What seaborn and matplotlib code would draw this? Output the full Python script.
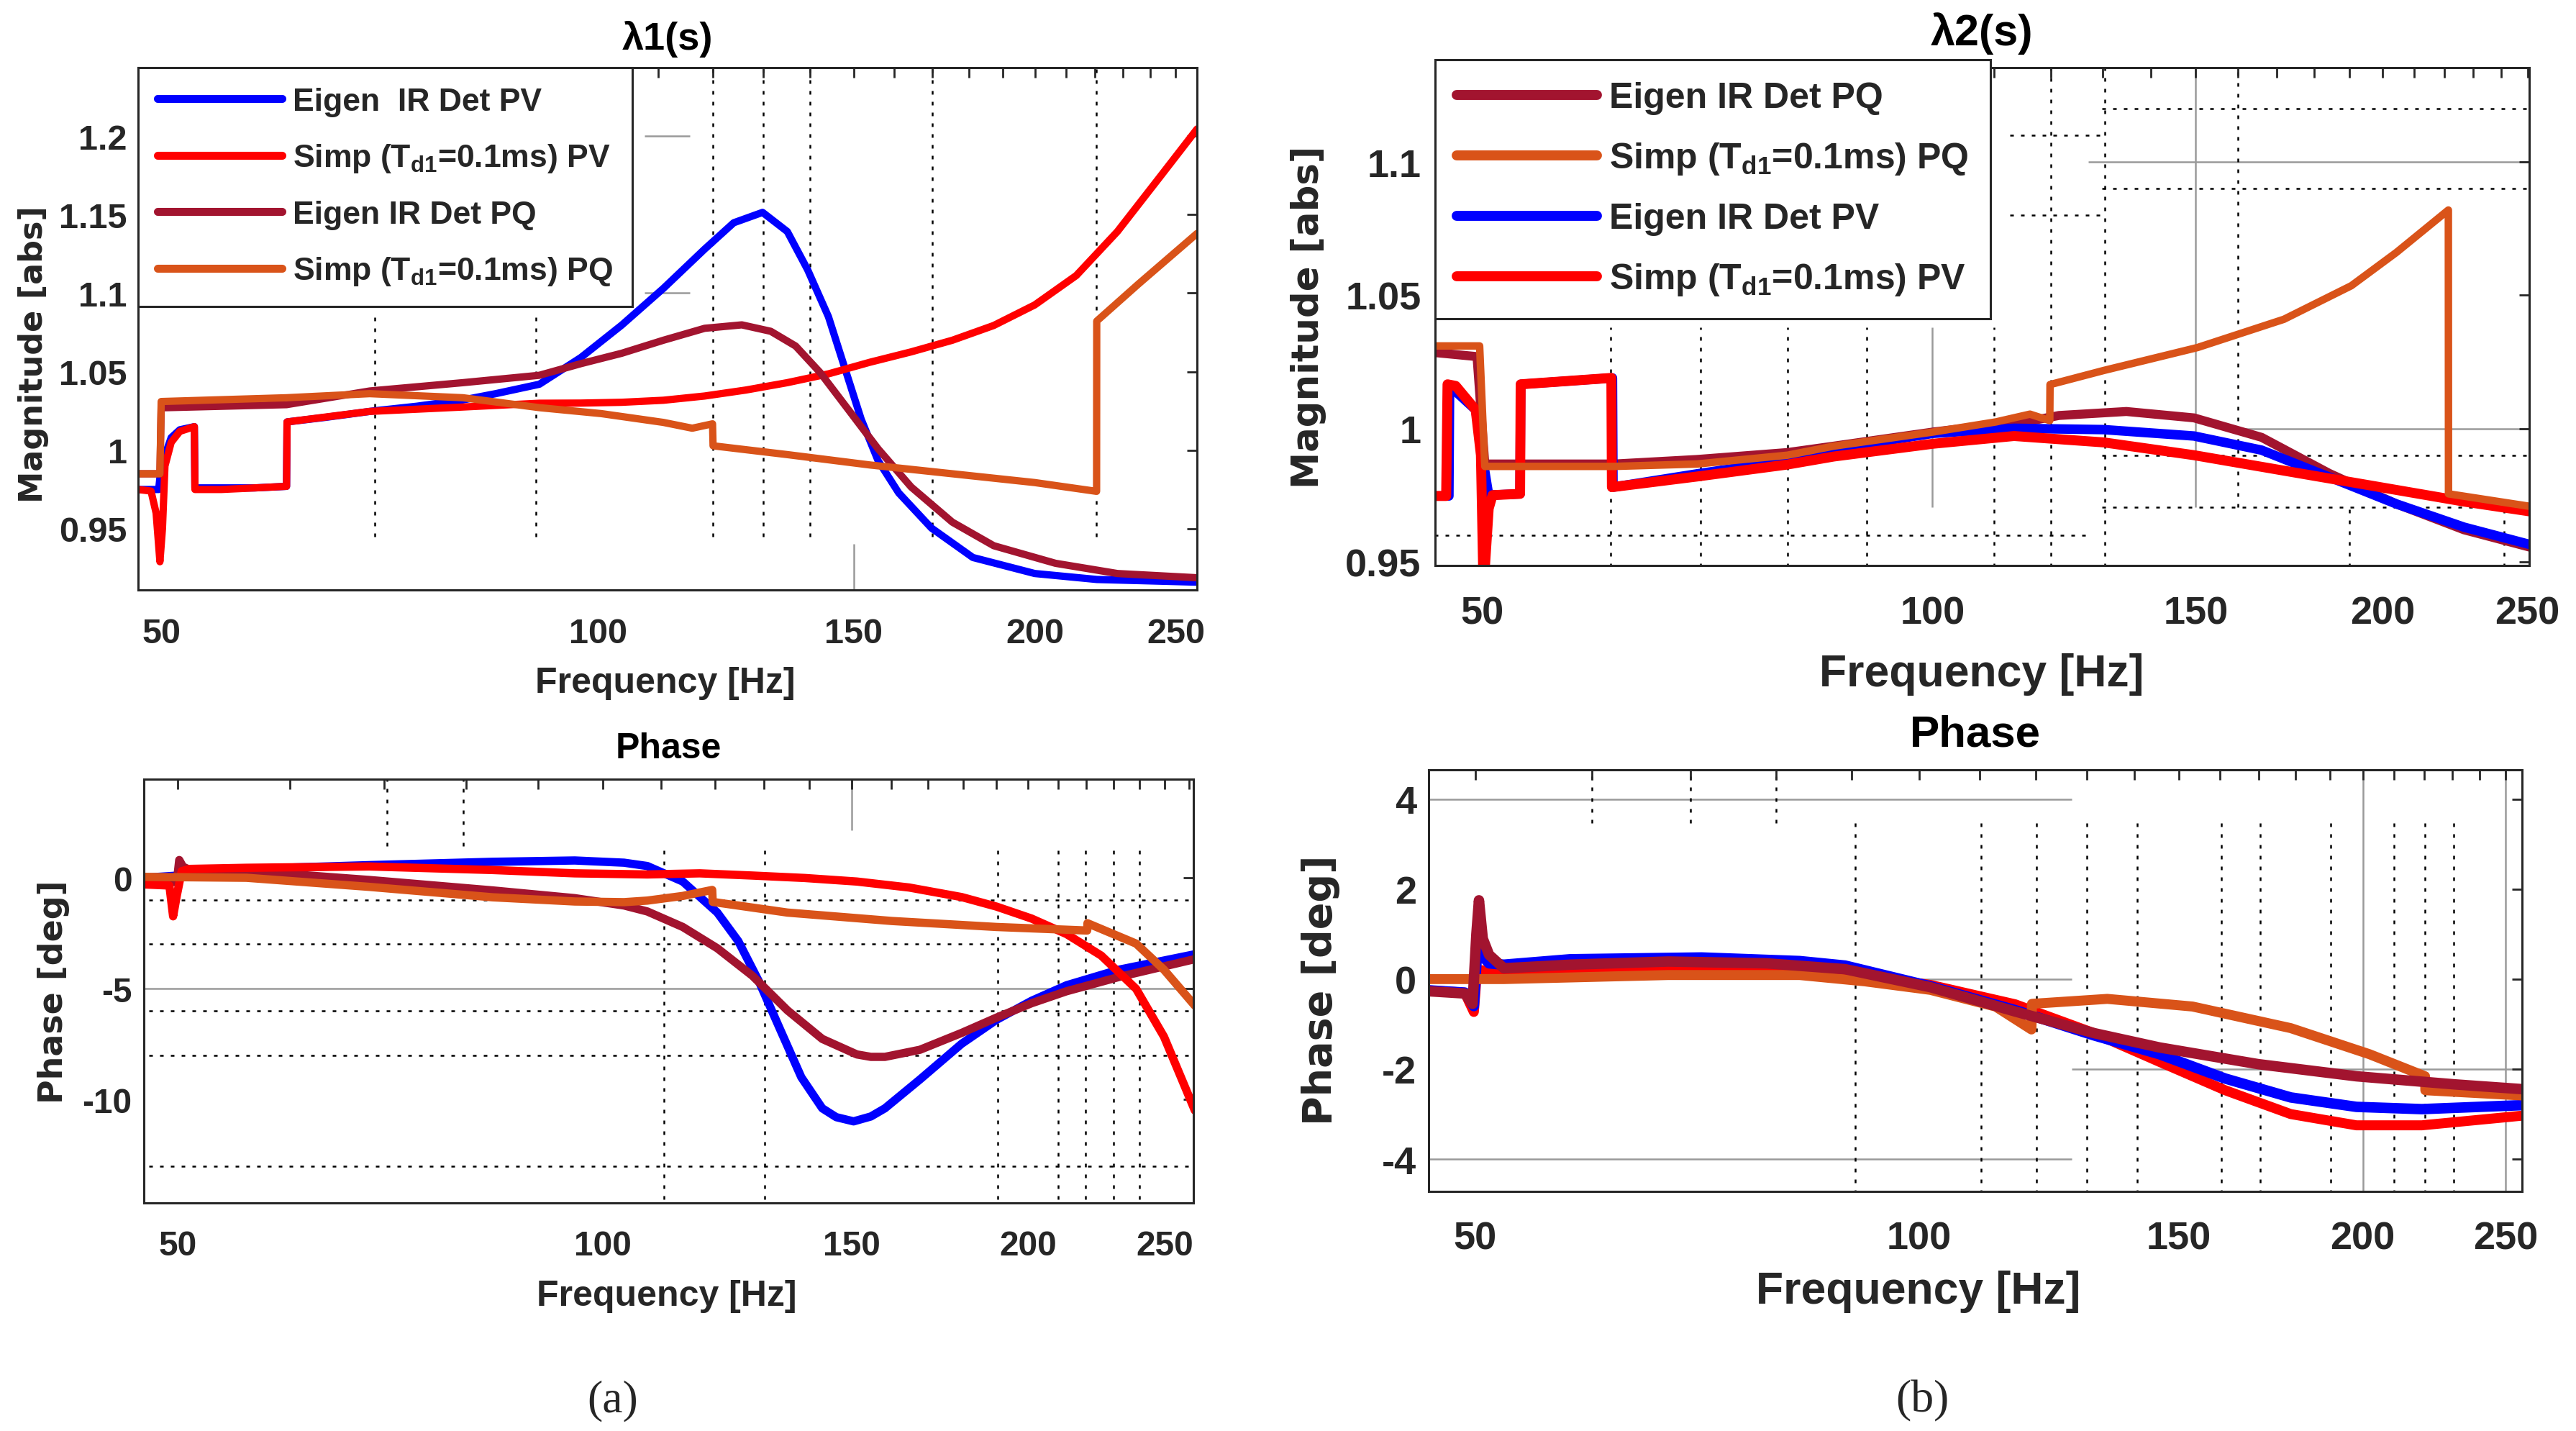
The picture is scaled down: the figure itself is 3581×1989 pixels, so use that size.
import matplotlib
matplotlib.use("Agg")
import matplotlib.pyplot as plt
import seaborn as sns
from matplotlib.ticker import FixedLocator, FixedFormatter, NullFormatter

# ---------------------------------------------------------------------------
# Data
# ---------------------------------------------------------------------------
# -- lambda1 magnitude ------------------------------------------------------
l1m_eig_pv_f = [48.2, 49.3, 49.8, 50.0, 50.8, 51.5, 52.7, 52.75, 55, 58, 61.0, 61.05, 65, 70, 75,
                80.7, 85, 91.1, 97.3, 103.8, 110.9, 118.4, 124.0, 129.8, 135.0, 139.4, 144.1,
                148.0, 151.8, 155.9, 161.1, 169.7, 181.2, 199.9, 220.6, 258.6]
l1m_eig_pv_v = [0.975, 0.975, 0.975, 0.99, 1.008, 1.013, 1.015, 0.976, 0.976, 0.976, 0.977, 1.018,
                1.021, 1.025, 1.028, 1.032, 1.036, 1.042, 1.059, 1.0796, 1.103, 1.128, 1.1448,
                1.1514, 1.1392, 1.115, 1.085, 1.0514, 1.0196, 0.9934, 0.9728, 0.9504, 0.9317,
                0.9215, 0.9177, 0.916]
l1m_simp_pv_f = [48.2, 49.2, 49.6, 49.9, 50.1, 50.3, 50.8, 51.5, 52.7, 52.75, 55, 58, 61.0, 61.05,
                 69.6, 80.7, 91.1, 97.3, 103.8, 110.9, 118.4, 126.4, 135.0, 144.1, 153.9, 164.3,
                 175.4, 187.3, 199.9, 213.5, 227.9, 243.3, 258.6]
l1m_simp_pv_v = [0.975, 0.974, 0.96, 0.929, 0.95, 0.99, 1.005, 1.012, 1.015, 0.975, 0.975, 0.976,
                 0.977, 1.018, 1.0247, 1.0275, 1.0299, 1.030, 1.0305, 1.0318, 1.0345, 1.0383,
                 1.043, 1.0486, 1.056, 1.0626, 1.070, 1.0794, 1.0925, 1.1112, 1.1392, 1.1729,
                 1.2045]
l1m_eig_pq_f = [48.2, 49.9, 50.0, 61, 69.6, 80.7, 91.1, 97.3, 103.8, 110.9, 118.4, 125.6, 131.5,
                136.8, 142.2, 148.9, 155.9, 164.3, 175.4, 187.3, 206.6, 227.9, 258.6]
l1m_eig_pq_v = [0.985, 0.985, 1.027, 1.029, 1.0377, 1.043, 1.0477, 1.0551, 1.0617, 1.070, 1.0776,
                1.0798, 1.0757, 1.0663, 1.0495, 1.0252, 1.0009, 0.9766, 0.9542, 0.9392, 0.928,
                0.9215, 0.9188]
l1m_simp_pq_f = [48.2, 49.9, 50.0, 61, 69.6, 80.7, 91.1, 100.5, 110.9, 116.1, 119.9, 120.0, 135.0,
                 153.9, 175.4, 199.9, 220.5, 220.55, 235.5, 258.6]
l1m_simp_pq_v = [0.985, 0.985, 1.031, 1.0334, 1.036, 1.0334, 1.0271, 1.0233, 1.0177, 1.014,
                 1.0168, 1.0028, 0.9972, 0.9906, 0.985, 0.9794, 0.9738, 1.0822, 1.1056, 1.138]

# -- lambda2 magnitude ------------------------------------------------------
l2m_eig_pq_f = [46.5, 49.6, 50.2, 61.3, 69.6, 80, 85.9, 100.1, 110.3, 116.6, 121.5, 134.8, 149.6,
                166.0, 184.2, 204.3, 226.7, 251.6]
l2m_eig_pq_v = [1.0285, 1.027, 0.9867, 0.9867, 0.9884, 0.991, 0.9934, 0.9987, 1.0015, 1.003,
                1.0049, 1.0064, 1.004, 0.9967, 0.9832, 0.9717, 0.962, 0.9553]
l2m_simp_pq_f = [46.5, 49.8, 50.2, 61.3, 69.6, 80, 85.9, 100.1, 110.3, 116.2, 119.8, 119.85,
                 130.2, 150.4, 171.8, 190.6, 204.3, 221.3, 221.35, 251.6]
l2m_simp_pq_v = [1.031, 1.031, 0.9858, 0.9858, 0.9867, 0.990, 0.9934, 0.9987, 1.0025, 1.0054,
                 1.003, 1.0165, 1.0218, 1.0304, 1.041, 1.0536, 1.0661, 1.082, 0.9755, 0.9707]
l2m_eig_pv_f = [46.5, 47.5, 47.55, 49.5, 50.0, 50.5, 53.0, 53.05, 61.1, 61.15, 69.6, 80, 85.9,
                100.1, 113.4, 130.2, 149.6, 166.0, 184.2, 204.3, 226.7, 251.6]
l2m_eig_pv_v = [0.9747, 0.9747, 1.016, 1.007, 0.99, 0.975, 0.9755, 1.0166, 1.019, 0.978, 0.983,
                0.988, 0.9924, 0.9982, 1.0001, 0.9996, 0.9972, 0.9919, 0.9818, 0.9717, 0.963,
                0.9563]
l2m_simp_pv_f = [46.5, 47.3, 47.4, 48.0, 49.5, 49.9, 50.1, 50.5, 50.8, 53.0, 53.05, 61.0, 61.05,
                 69.6, 80, 85.9, 100.1, 113.4, 130.2, 149.6, 171.8, 197.4, 226.7, 251.6]
l2m_simp_pv_v = [0.9747, 0.9747, 1.0166, 1.016, 1.007, 0.99, 0.94, 0.97, 0.975, 0.9755, 1.0166,
                 1.019, 0.978, 0.982, 0.9865, 0.9895, 0.9943, 0.9972, 0.9948, 0.990, 0.9842,
                 0.9784, 0.9726, 0.9688]

# -- lambda1 phase ----------------------------------------------------------
l1p_eig_pv_f = [47.3, 50.0, 50.5, 55.9, 68.3, 83.5, 95.5, 103.5, 107.5, 113.9, 120.5, 124.7,
                129.0, 133.5, 138.2, 143.0, 146.3, 150.5, 154.8, 158.4, 167.7, 179.5, 190.0,
                201.2, 213.0, 231.9, 262.6]
l1p_eig_pv_v = [0.0, 0.1, 0.35, 0.4, 0.57, 0.72, 0.78, 0.68, 0.53, -0.17, -1.57, -2.86, -4.69,
                -6.84, -9.0, -10.4, -10.8, -10.99, -10.77, -10.4, -9.1, -7.49, -6.41, -5.55,
                -4.85, -4.15, -3.45]
l1p_eig_pq_f = [47.3, 49.9, 50.1, 50.4, 51, 55.9, 68.3, 83.5, 95.5, 103.5, 107.5, 113.9, 120.5,
                127.6, 135.1, 143.0, 151.3, 154.8, 158.4, 167.7, 179.5, 190.0, 201.2, 213.0,
                231.9, 262.6]
l1p_eig_pq_v = [-0.1, -0.2, 0.8, 0.5, 0.35, 0.31, -0.1, -0.57, -0.92, -1.25, -1.52, -2.22, -3.18,
                -4.42, -5.98, -7.27, -7.97, -8.08, -8.08, -7.76, -7.0, -6.31, -5.66, -5.12,
                -4.48, -3.67]
l1p_simp_pv_f = [47.3, 49.3, 49.6, 49.9, 50.3, 51, 55.9, 68.3, 83.5, 95.5, 107.5, 117.1, 127.6,
                 139.0, 151.3, 164.8, 179.5, 190.0, 201.2, 213.0, 225.4, 238.6, 249.7, 262.6]
l1p_simp_pv_v = [-0.3, -0.35, -1.74, -0.8, 0.3, 0.4, 0.45, 0.51, 0.35, 0.2, 0.15, 0.2, 0.1, -0.01,
                 -0.17, -0.44, -0.87, -1.3, -1.84, -2.54, -3.51, -5.01, -7.17, -10.5]
l1p_simp_pq_f = [47.3, 55.9, 68.3, 83.5, 95.5, 103.5, 107.5, 113.9, 119.5, 119.6, 135.1, 160.2,
                 190.0, 220.3, 220.4, 238.6, 249.7, 262.6]
l1p_simp_pq_v = [0.04, 0.0, -0.41, -0.88, -1.07, -1.1, -1.03, -0.82, -0.55, -1.09, -1.57, -1.95,
                 -2.22, -2.38, -2.05, -2.97, -4.15, -5.77]

# -- lambda2 phase ----------------------------------------------------------
l2p_eig_pq_f = [46.5, 49.2, 49.8, 50.1, 50.3, 50.6, 51.1, 52.3, 58.0, 67.6, 78.8, 89.1, 101.8,
                116.2, 131.4, 145.6, 169.8, 198.0, 230.8, 257.5]
l2p_eig_pq_v = [-0.27, -0.32, -0.55, 1.0, 1.75, 0.9, 0.54, 0.24, 0.32, 0.39, 0.35, 0.22, -0.18,
                -0.72, -1.2, -1.52, -1.89, -2.16, -2.34, -2.45]
l2p_eig_pv_f = [46.5, 49.2, 49.9, 50.2, 50.6, 51.1, 52.3, 58.0, 71.2, 83.0, 89.1, 101.8, 116.2,
                131.4, 145.6, 161.3, 178.7, 198.0, 219.3, 257.5]
l2p_eig_pv_v = [-0.25, -0.3, -0.6, 0.8, 0.5, 0.35, 0.32, 0.44, 0.48, 0.40, 0.30, -0.16, -0.69,
                -1.25, -1.67, -2.21, -2.63, -2.84, -2.89, -2.8]
l2p_simp_pv_f = [46.5, 49.2, 49.9, 50.1, 50.4, 51.1, 52.3, 64.2, 78.8, 89.1, 101.8, 116.2, 131.4,
                 145.6, 161.3, 178.7, 198.0, 219.3, 257.5]
l2p_simp_pv_v = [-0.25, -0.3, -0.73, 0.0, 0.2, 0.18, 0.16, 0.19, 0.24, 0.13, -0.13, -0.56, -1.2,
                 -1.84, -2.47, -3.0, -3.25, -3.25, -3.03]
l2p_simp_pq_f = [46.5, 52.3, 67.6, 83.0, 91.9, 101.8, 112.7, 119.2, 119.3, 134.2, 153.3, 178.7,
                 202.1, 220.4, 220.5, 257.5]
l2p_simp_pq_v = [0.0, 0.0, 0.09, 0.09, -0.05, -0.24, -0.61, -1.12, -0.55, -0.44, -0.61, -1.09,
                 -1.67, -2.16, -2.47, -2.59]

# -- labels / ticks -----------------------------------------------------------
lbl_eig_pv = "Eigen  IR Det PV"
lbl_eig_pv2 = "Eigen IR Det PV"
lbl_simp_pv = "Simp (T$_{d1}$=0.1ms) PV"
lbl_eig_pq = "Eigen IR Det PQ"
lbl_simp_pq = "Simp (T$_{d1}$=0.1ms) PQ"

x_ticks = [50, 100, 150, 200, 250]
x_tick_labels = ["50", "100", "150", "200", "250"]
x_minor = [60, 70, 80, 90, 110, 120, 130, 140, 160, 170, 180, 190, 210, 220, 230, 240, 260]

l1m_yticks = [0.95, 1.0, 1.05, 1.1, 1.15, 1.2]
l1m_ylabels = ["0.95", "1", "1.05", "1.1", "1.15", "1.2"]
l2m_yticks = [0.95, 1.0, 1.05, 1.1]
l2m_ylabels = ["0.95", "1", "1.05", "1.1"]
l1p_yticks = [-10, -5, 0]
l1p_ylabels = ["-10", "-5", "0"]
l2p_yticks = [-4, -2, 0, 2, 4]
l2p_ylabels = ["-4", "-2", "0", "2", "4"]

# leftover grid fragments of the exported MATLAB figure: (x, y0, y1) / (y, x0, x1)
l1m_vdots = [(70.2, 0.945, 1.087), (90.6, 0.945, 1.087), (120, 0.945, 1.25), (130, 0.945, 1.25),
             (140, 0.945, 1.25), (170, 0.945, 1.25), (220.5, 0.945, 1.25)]
l1m_hgray = [(1.2, 107.7, 115.6), (1.1, 107.7, 115.6)]
l1m_vgray = [(150, 0.90, 0.9405)]

l2m_hdots = [(1.12, 129.8, 260), (1.11, 112.7, 129.8), (1.09, 129.8, 260), (1.08, 112.7, 129.8),
             (0.99, 129.8, 260), (0.9704, 129.8, 260), (0.96, 40, 127.9)]
l2m_hgray = [(1.1, 127.1, 260), (1.0, 160.3, 260)]
l2m_vdots = [(60.9, 0.94, 1.038), (70, 0.94, 1.038), (80, 0.94, 1.038), (90.4, 0.94, 1.038),
             (110, 0.94, 1.038), (120, 0.94, 1.2), (130.4, 0.94, 1.2), (160, 0.9704, 1.2),
             (190, 0.94, 0.9704), (241, 0.94, 0.9704)]
l2m_vgray = [(150, 0.9704, 1.2), (100, 0.9704, 1.038)]

l1p_hdots = [(-1, 40, 270), (-3, 40, 270), (-6, 40, 270), (-8, 40, 270), (-13, 40, 270)]
l1p_hgray = [(-5, 40, 270)]
l1p_vdots = [(70.3, 1.43, 5), (79.6, 1.43, 5), (110.5, -15, 1.43), (130.2, -15, 1.43),
             (190.4, -15, 1.43), (210, -15, 1.43), (219.6, -15, 1.43), (230, -15, 1.43),
             (240, -15, 1.43)]
l1p_vgray = [(150, 2.15, 5)]

l2p_hdots = []
l2p_hgray = [(4, 40, 127), (0, 98.5, 127), (-2, 127, 270), (-4, 40, 127)]
l2p_vdots = [(60, 3.46, 5), (70, 3.46, 5), (80, 3.46, 5), (90.5, -5, 3.46), (110.2, -5, 3.46),
             (120.1, -5, 3.46), (130, -5, 3.46), (140.6, -5, 3.46), (160.4, -5, 3.46),
             (170.4, -5, 3.46), (190.3, -5, 3.46), (210, -5, 3.46), (220.4, -5, 3.46),
             (230.5, -5, 3.46)]
l2p_vgray = [(200, -5, 5), (250, -5, 5)]

# ---------------------------------------------------------------------------
# Style
# ---------------------------------------------------------------------------
BLUE, RED, MAROON, ORANGE = "#0000FF", "#FF0000", "#A2142F", "#D95319"
INK = "#262626"

sns.set_style("white")
plt.rcParams["font.family"] = ["Liberation Sans", "DejaVu Sans"]
plt.rcParams["font.weight"] = "bold"
plt.rcParams["mathtext.fontset"] = "custom"
plt.rcParams["mathtext.rm"] = "Liberation Sans:bold"
plt.rcParams["mathtext.it"] = "Liberation Sans:bold"
plt.rcParams["mathtext.default"] = "rm"
plt.rcParams["axes.linewidth"] = 2.2
plt.rcParams["axes.edgecolor"] = INK

fig = plt.figure(figsize=(35.81, 19.90), dpi=100)


def draw(ax, f, v, color, lw):
    sns.lineplot(x=f, y=v, ax=ax, color=color, linewidth=lw, sort=False,
                 estimator=None, legend=False)
    line = ax.lines[-1]
    line.set_solid_joinstyle("round")
    return line


def fragments(ax, hdots, hgray, vdots, vgray):
    dots = dict(color="black", linestyle=(0, (2, 4)), linewidth=1.8, zorder=0.5)
    gray = dict(color="#9a9a9a", linestyle="-", linewidth=1.8, zorder=0.5)
    for y, x0, x1 in hdots:
        ax.hlines(y, x0, x1, **dots)
    for y, x0, x1 in hgray:
        ax.hlines(y, x0, x1, **gray)
    for x, y0, y1 in vdots:
        ax.vlines(x, y0, y1, **dots)
    for x, y0, y1 in vgray:
        ax.vlines(x, y0, y1, **gray)


def style(ax, xlim, ylim, yticks, ylabels, fs_tick, pad_x, pad_y, title, fs_title, title_y,
          xlab_xy, fs_xlab, ylab, ylab_xy, fs_ylab):
    ax.set_xscale("log")
    ax.set_xlim(*xlim)
    ax.set_ylim(*ylim)
    ax.xaxis.set_major_locator(FixedLocator(x_ticks))
    ax.xaxis.set_major_formatter(FixedFormatter(x_tick_labels))
    ax.xaxis.set_minor_locator(FixedLocator(x_minor))
    ax.xaxis.set_minor_formatter(NullFormatter())
    ax.set_yticks(yticks)
    ax.set_yticklabels(ylabels)
    ax.tick_params(which="both", direction="in", top=True, right=True, length=10, width=2,
                   color=INK, labelcolor=INK, labelsize=fs_tick)
    ax.tick_params(axis="x", which="both", pad=pad_x)
    ax.tick_params(axis="y", which="both", pad=pad_y)
    for s in ax.spines.values():
        s.set_visible(True)
        s.set_color(INK)
        s.set_linewidth(2.2)
    ax.set_title(title, fontsize=fs_title, fontweight="bold", y=title_y, va="center", pad=0,
                 color="black")
    ax.set_xlabel("Frequency [Hz]", fontsize=fs_xlab, fontweight="bold", va="center", color=INK)
    ax.xaxis.set_label_coords(*xlab_xy)
    ax.set_ylabel(ylab, fontsize=fs_ylab, fontweight="bold", family="DejaVu Sans",
                  va="center", color=INK)
    ax.yaxis.set_label_coords(*ylab_xy)


def legend(ax, handles, labels, fs, anchor, handlelength, handle_lw, spacing):
    leg = ax.legend(handles, labels, loc="upper left", bbox_to_anchor=anchor, borderaxespad=0,
                    fontsize=fs, handlelength=handlelength, handletextpad=0.35,
                    labelspacing=spacing, borderpad=0.6, fancybox=False, framealpha=1,
                    edgecolor=INK)
    leg.get_frame().set_linewidth(2.2)
    for line in leg.get_lines():
        line.set_linewidth(handle_lw)
    return leg


# ---------------------------------------------------------------------------
# (a) lambda1 magnitude
# ---------------------------------------------------------------------------
ax1 = fig.add_axes([0.0536, 0.5874, 0.4111, 0.3648])
fragments(ax1, [], l1m_hgray, l1m_vdots, l1m_vgray)
h1 = [draw(ax1, l1m_eig_pv_f, l1m_eig_pv_v, BLUE, 7.3),
      draw(ax1, l1m_simp_pv_f, l1m_simp_pv_v, RED, 7.3),
      draw(ax1, l1m_eig_pq_f, l1m_eig_pq_v, MAROON, 7.3),
      draw(ax1, l1m_simp_pq_f, l1m_simp_pq_v, ORANGE, 7.3)]
style(ax1, (48.2, 258.6), (0.911, 1.2435), l1m_yticks, l1m_ylabels, 35, 27, 11,
      "λ1(s)", 39, 1.0565, (0.498, -0.178), 36, "Magnitude [abs]", (-0.099, 0.453), 32)
legend(ax1, h1, [lbl_eig_pv, lbl_simp_pv, lbl_eig_pq, lbl_simp_pq], 32, (0, 1), 3.9, 8, 0.8)

# ---------------------------------------------------------------------------
# (b) lambda2 magnitude
# ---------------------------------------------------------------------------
ax2 = fig.add_axes([0.5571, 0.6045, 0.4247, 0.3477])
fragments(ax2, l2m_hdots, l2m_hgray, l2m_vdots, l2m_vgray)
m_pq = draw(ax2, l2m_eig_pq_f, l2m_eig_pq_v, MAROON, 9)
m_pv = draw(ax2, l2m_eig_pv_f, l2m_eig_pv_v, BLUE, 9.5)
s_pv = draw(ax2, l2m_simp_pv_f, l2m_simp_pv_v, RED, 10)
s_pq = draw(ax2, l2m_simp_pq_f, l2m_simp_pq_v, ORANGE, 7.5)
style(ax2, (46.5, 250.6), (0.9486, 1.1354), l2m_yticks, l2m_ylabels, 39, 30, 14,
      "λ2(s)", 44, 1.0694, (0.4997, -0.2168), 45, "Magnitude [abs]", (-0.116, 0.5), 37)
legend(ax2, [m_pq, s_pq, m_pv, s_pv], [lbl_eig_pq, lbl_simp_pq, lbl_eig_pv2, lbl_simp_pv],
       36, (0, 1.016), 3.9, 10, 0.72)

# ---------------------------------------------------------------------------
# (a) lambda1 phase
# ---------------------------------------------------------------------------
ax3 = fig.add_axes([0.0559, 0.1593, 0.4074, 0.2960])
fragments(ax3, l1p_hdots, l1p_hgray, l1p_vdots, l1p_vgray)
draw(ax3, l1p_eig_pv_f, l1p_eig_pv_v, BLUE, 8.3)
draw(ax3, l1p_eig_pq_f, l1p_eig_pq_v, MAROON, 8.3)
draw(ax3, l1p_simp_pv_f, l1p_simp_pv_v, RED, 8.3)
draw(ax3, l1p_simp_pq_f, l1p_simp_pq_v, ORANGE, 8.3)
style(ax3, (47.3, 262.0), (-14.67, 4.45), l1p_yticks, l1p_ylabels, 34.5, 27, 12,
      "Phase", 36, 1.073, (0.498, -0.219), 36, "Phase [deg]", (-0.086, 0.5), 33)

# ---------------------------------------------------------------------------
# (b) lambda2 phase
# ---------------------------------------------------------------------------
ax4 = fig.add_axes([0.5546, 0.1673, 0.4245, 0.2945])
fragments(ax4, l2p_hdots, l2p_hgray, l2p_vdots, l2p_vgray)
draw(ax4, l2p_simp_pv_f, l2p_simp_pv_v, RED, 10)
draw(ax4, l2p_eig_pv_f, l2p_eig_pv_v, BLUE, 10.5)
draw(ax4, l2p_simp_pq_f, l2p_simp_pq_v, ORANGE, 10)
draw(ax4, l2p_eig_pq_f, l2p_eig_pq_v, MAROON, 10.5)
style(ax4, (46.5, 256.5), (-4.72, 4.65), l2p_yticks, l2p_ylabels, 39, 29, 12,
      "Phase", 44.5, 1.0836, (0.448, -0.237), 45, "Phase [deg]", (-0.099, 0.48), 40)

fig.text(852 / 3581, 1 - 1947 / 1990, "(a)", family="Liberation Serif", fontweight="normal",
         fontsize=46, ha="center", va="center")
fig.text(2672 / 3581, 1 - 1947 / 1990, "(b)", family="Liberation Serif", fontweight="normal",
         fontsize=46, ha="center", va="center")

fig.savefig("out.png", dpi=100)
